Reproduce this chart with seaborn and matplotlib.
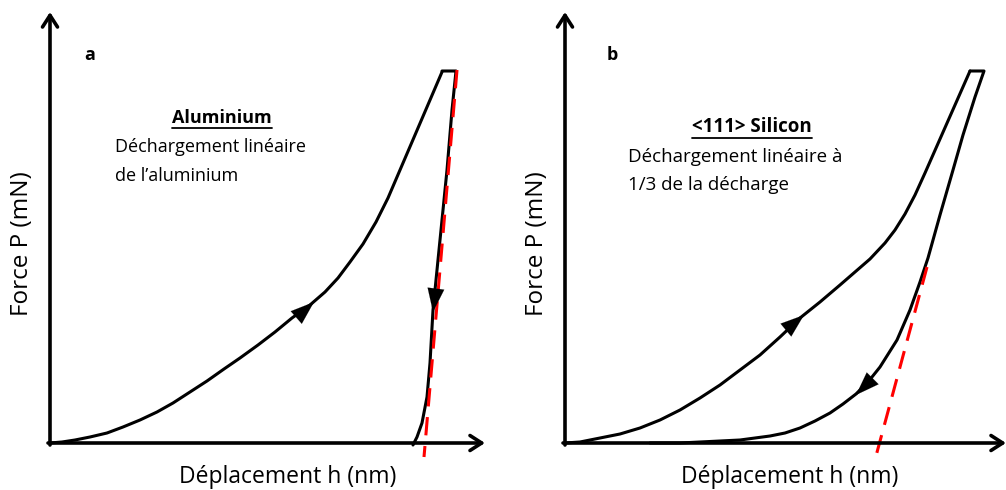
import matplotlib
matplotlib.use("Agg")
import matplotlib.pyplot as plt
import seaborn as sns
import pandas as pd

sns.set_theme(style="white")
plt.rcParams["font.family"] = ["Open Sans", "DejaVu Sans"]
plt.rcParams["text.color"] = "black"

# Schematic load-displacement curves (canvas units, y grows downward)
al_load_x = [50, 62, 75, 90, 107, 123, 140, 157, 173, 190, 207, 224, 240, 258, 275, 292, 310,
             325, 338, 350, 363, 376, 388, 400, 415, 430, 442]
al_load_y = [443, 442, 440, 437, 433, 427, 420, 412, 403, 392, 381, 369, 358, 345, 332, 318, 305,
             292, 278, 262, 244, 222, 198, 170, 135, 100, 72]
al_unload_x = [442, 456, 452, 447, 442, 437, 433, 430, 427, 422, 417, 413]
al_unload_y = [71, 71, 110, 170, 220, 270, 310, 363, 397, 423, 437, 445]
al_fit_x = [457, 424]
al_fit_y = [70, 457]

si_load_x = [565, 580, 600, 620, 640, 660, 680, 700, 720, 740, 760, 780, 800, 820, 840, 855,
             870, 885, 895, 905, 915, 925, 940, 955, 970]
si_load_y = [443, 442, 438, 434, 428, 420, 410, 398, 385, 370, 355, 337, 318, 302, 285, 272,
             259, 243, 230, 214, 195, 173, 139, 105, 71]
si_unload_x = [970, 984, 975, 963, 953, 940, 928, 920, 910, 897, 880, 868, 856, 843, 830, 815,
               800, 785, 770, 755, 740, 720, 700, 680, 650]
si_unload_y = [71, 71, 97, 135, 170, 215, 258, 282, 310, 340, 367, 382, 394, 404, 413, 421,
               428, 433, 436, 438, 440, 441, 442, 443, 443]
si_fit_x = [927, 876]
si_fit_y = [267, 456]

fig = plt.figure(figsize=(10.06, 4.9), dpi=100)
ax = fig.add_axes([0, 0, 1, 1])
ax.set_xlim(0, 1006)
ax.set_ylim(490, 0)
ax.axis("off")

LW = 2.2

def curve(xs, ys, **kw):
    df = pd.DataFrame({"x": xs, "y": ys})
    sns.lineplot(data=df, x="x", y="y", sort=False, estimator=None, ax=ax, **kw)

for xs, ys in [(al_load_x, al_load_y), (al_unload_x, al_unload_y),
               (si_load_x, si_load_y), (si_unload_x, si_unload_y)]:
    curve(xs, ys, color="black", linewidth=LW)

for xs, ys in [(al_fit_x, al_fit_y), (si_fit_x, si_fit_y)]:
    curve(xs, ys, color="red", linewidth=LW, linestyle=(0, (6, 3.5)))

# Axes with arrow tips
def axis_arrow(x0, y0, x1, y1):
    ax.annotate("", xy=(x1, y1), xytext=(x0, y0),
                arrowprops=dict(arrowstyle="->,head_length=0.7,head_width=0.45",
                                color="black", lw=2.6, shrinkA=0, shrinkB=0))

axis_arrow(50, 445, 50, 12)
axis_arrow(48, 443, 485, 443)
axis_arrow(565, 445, 565, 12)
axis_arrow(563, 443, 1006, 443)

# Direction arrowheads on the curves
def head(x0, y0, x1, y1):
    ax.annotate("", xy=(x1, y1), xytext=(x0, y0),
                arrowprops=dict(arrowstyle="-|>,head_length=1.4,head_width=0.5",
                                color="black", lw=0.1, shrinkA=0, shrinkB=0))

head(298, 316, 314, 302)
head(435.5, 292, 433, 312)
head(786, 330, 804, 315)
head(870, 381, 856, 395)

# Text
ax.text(22, 244, "Force P (mN)", rotation=90, ha="center", va="center", fontsize=17.5)
ax.text(537, 244, "Force P (mN)", rotation=90, ha="center", va="center", fontsize=17.5)
ax.text(288, 477, "Déplacement h (nm)", ha="center", va="center", fontsize=16.5)
ax.text(790, 477, "Déplacement h (nm)", ha="center", va="center", fontsize=16.5)
ax.text(90, 55, "a", ha="center", va="center", fontsize=13, fontweight="bold")
ax.text(612, 55, "b", ha="center", va="center", fontsize=13, fontweight="bold")

t1 = ax.text(222, 118, "Aluminium", ha="center", va="center", fontsize=13, fontweight="bold")
ax.text(115, 147, "Déchargement linéaire", ha="left", va="center", fontsize=13)
ax.text(115, 176, "de l\u2019aluminium", ha="left", va="center", fontsize=13)

t2 = ax.text(752, 127, "<111> Silicon", ha="center", va="center", fontsize=13.5, fontweight="bold")
ax.text(628, 157, "Déchargement linéaire à", ha="left", va="center", fontsize=13.5)
ax.text(628, 185, "1/3 de la décharge", ha="left", va="center", fontsize=13.5)

# Underline the bold headings
fig.canvas.draw()
r = fig.canvas.get_renderer()
inv = ax.transData.inverted()
for t in (t1, t2):
    bb = t.get_window_extent(r)
    (xa, ya), (xb, yb) = inv.transform([(bb.x0, bb.y0), (bb.x1, bb.y1)])
    ax.plot([xa, xb], [ya + 1, ya + 1], color="black", lw=1.3)

fig.savefig("out.png", dpi=100)
